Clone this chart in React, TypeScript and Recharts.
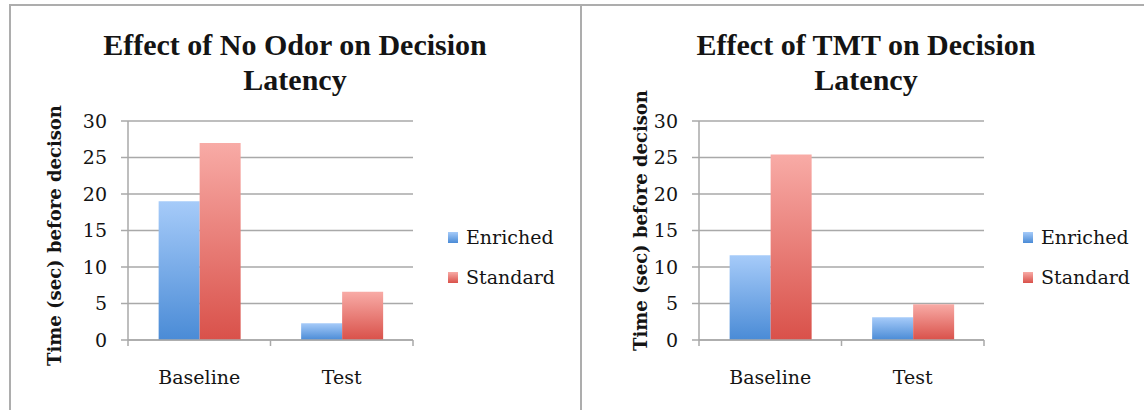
import { BarChart, Bar, XAxis, YAxis, CartesianGrid, Legend } from 'recharts'

const categories = ['Baseline', 'Test']
const seriesNames = ['Enriched', 'Standard']
const noOdorEnriched = [19, 2.3]
const noOdorStandard = [27, 6.6]
const tmtEnriched = [11.6, 3.1]
const tmtStandard = [25.4, 4.9]
const yTicks = [0, 5, 10, 15, 20, 25, 30]
const yTitle = 'Time (sec) before decison'

const SERIF = '"DejaVu Serif", serif'
const GRID = '#a9a9a9'
const INK = '#141414'

// top / bottom stops of each series' bar gradient
const fills = [
  { key: 'enriched', top: '#a6cbf9', bottom: '#4a8bd6' },
  { key: 'standard', top: '#f8aba6', bottom: '#d9514a' },
]

interface PanelProps {
  id: string
  left: number
  title: string[]
  enriched: number[]
  standard: number[]
  yLabelX: number
  yLabelDy: number
  legendX: number
}

function CategoryTick(props: any) {
  const { x, y, payload, index, visibleTicksCount } = props
  const half = payload.offset ?? 0
  const last = index === visibleTicksCount - 1
  return (
    <g>
      <line x1={x - half} x2={x - half} y1={y} y2={y + 6} stroke={GRID} strokeWidth={1.5} />
      {last && <line x1={x + half} x2={x + half} y1={y} y2={y + 6} stroke={GRID} strokeWidth={1.5} />}
      <text x={x} y={y + 44} textAnchor="middle" fontFamily={SERIF} fontSize={19} fill={INK}>
        {payload.value}
      </text>
    </g>
  )
}

function LegendBox() {
  return (
    <div style={{ fontFamily: SERIF, fontSize: 19, color: INK }}>
      {seriesNames.map((name, i) => (
        <div key={name} style={{ display: 'flex', alignItems: 'center', height: 40 }}>
          <span
            style={{
              width: 10,
              height: 11,
              marginRight: 8,
              background: `linear-gradient(${fills[i].top}, ${fills[i].bottom})`,
            }}
          />
          {name}
        </div>
      ))}
    </div>
  )
}

function Panel({ id, left, title, enriched, standard, yLabelX, yLabelDy, legendX }: PanelProps) {
  const data = categories.map((c, i) => ({ name: c, enriched: enriched[i], standard: standard[i] }))
  return (
    <div style={{ position: 'absolute', left, top: 0, width: 570, height: 410 }}>
      <div
        style={{
          position: 'absolute',
          left: 0,
          top: 27,
          width: 590,
          textAlign: 'center',
          fontFamily: '"Liberation Serif", serif',
          fontWeight: 'bold',
          fontSize: 30,
          lineHeight: '35px',
          color: INK,
        }}
      >
        {title.map(t => <div key={t}>{t}</div>)}
      </div>
      <BarChart
        width={570}
        height={410}
        data={data}
        margin={{ top: 121, right: 157, bottom: 40, left: 0 }}
        barCategoryGap="21.5%"
        barGap={0}
      >
        <defs>
          {fills.map(f => (
            <linearGradient key={f.key} id={`${id}-${f.key}`} x1="0" y1="0" x2="0" y2="1">
              <stop offset="0%" stopColor={f.top} />
              <stop offset="100%" stopColor={f.bottom} />
            </linearGradient>
          ))}
        </defs>
        <CartesianGrid vertical={false} stroke={GRID} strokeWidth={1.5} />
        <XAxis
          dataKey="name"
          height={30}
          tickSize={0}
          tickMargin={0}
          tickLine={false}
          axisLine={{ stroke: GRID, strokeWidth: 1.5 }}
          tick={<CategoryTick />}
          interval={0}
        />
        <YAxis
          width={128}
          domain={[0, 30]}
          ticks={yTicks}
          interval={0}
          tickSize={7}
          tickMargin={14}
          axisLine={{ stroke: GRID, strokeWidth: 1.5 }}
          tickLine={{ stroke: GRID, strokeWidth: 1.5 }}
          tick={{ fontFamily: SERIF, fontSize: 19, fill: INK }}
          label={{
            content: (p: any) => {
              const vb = p.viewBox ?? { x: 0, y: 0, height: 0 }
              const cx = vb.x + yLabelX
              const cy = vb.y + vb.height / 2 + yLabelDy
              return (
                <text
                  x={cx}
                  y={cy}
                  transform={`rotate(-90, ${cx}, ${cy})`}
                  textAnchor="middle"
                  dominantBaseline="central"
                  fontFamily={SERIF}
                  fontWeight="bold"
                  fontSize={18}
                  fill={INK}
                >
                  {yTitle}
                </text>
              )
            },
          }}
        />
        <Legend
          layout="vertical"
          align="center"
          verticalAlign="middle"
          wrapperStyle={{ left: legendX, top: 217, width: 'auto' }}
          content={<LegendBox />}
        />
        <Bar dataKey="enriched" name={seriesNames[0]} fill={`url(#${id}-enriched)`} isAnimationActive={false} />
        <Bar dataKey="standard" name={seriesNames[1]} fill={`url(#${id}-standard)`} isAnimationActive={false} />
      </BarChart>
    </div>
  )
}

export default function App() {
  return (
    <div style={{ position: 'absolute', left: 0, top: 0, width: 1144, height: 410, background: '#fff', overflow: 'hidden' }}>
      {/* frame lines */}
      <div style={{ position: 'absolute', left: 9, top: 4, width: 1135, height: 2, background: '#adadad' }} />
      <div style={{ position: 'absolute', left: 9, top: 4, width: 2, height: 406, background: '#adadad' }} />
      <div style={{ position: 'absolute', left: 580, top: 4, width: 2, height: 406, background: '#adadad' }} />
      <Panel
        id="noodor"
        left={0}
        title={['Effect of No Odor on Decision', 'Latency']}
        enriched={noOdorEnriched}
        standard={noOdorStandard}
        yLabelX={54}
        yLabelDy={5}
        legendX={448}
      />
      <Panel
        id="tmt"
        left={571}
        title={['Effect of TMT on Decision', 'Latency']}
        enriched={tmtEnriched}
        standard={tmtStandard}
        yLabelX={69}
        yLabelDy={-10}
        legendX={452}
      />
    </div>
  )
}
